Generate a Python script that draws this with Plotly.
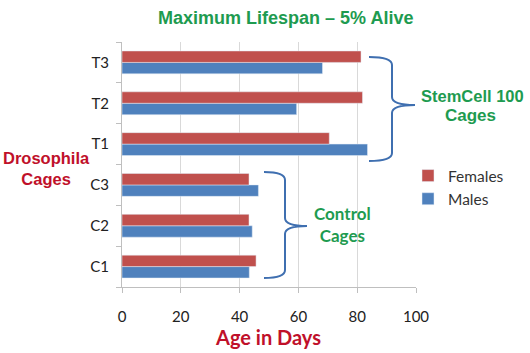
import plotly.graph_objects as go

categories = ["C1", "C2", "C3", "T1", "T2", "T3"]
females = [45.6, 43.2, 43.2, 70.5, 81.8, 81.3]
males = [43.3, 44.3, 46.4, 83.5, 59.4, 68.2]
x_ticks = [0, 20, 40, 60, 80, 100]

RED = "#C0504D"
BLUE = "#4F81BD"
GREEN = "#1E9B50"
DARKRED = "#C0102A"

W, H = 530, 353
L, R, T, B = 122, 114, 42, 66
PW, PH = W - L - R, H - T - B


def px(x):
    return (x - L) / PW


def py(y):
    return (H - B - y) / PH


fig = go.Figure()
fig.add_trace(go.Bar(y=categories, x=males, orientation="h", name="Males",
                     marker_color=BLUE, legendgroup="m"))
fig.add_trace(go.Bar(y=categories, x=females, orientation="h", name="Females",
                     marker_color=RED, legendgroup="f"))


def brace(x0, x1, x2, ytop, ymid, ybot, r=8):
    X0, X1, X2 = px(x0), px(x1), px(x2)
    Yt, Ym, Yb = py(ytop), py(ymid), py(ybot)
    ry = r / PH
    p = (f"M {X0},{Yt} Q {X1},{Yt} {X1},{Yt - ry} "
         f"L {X1},{Ym + ry} Q {X1},{Ym} {X2},{Ym} "
         f"Q {X1},{Ym} {X1},{Ym - ry} "
         f"L {X1},{Yb + ry} Q {X1},{Yb} {X0},{Yb}")
    return dict(type="path", path=p, xref="paper", yref="paper",
                line=dict(color="#3F6FB0", width=2))


shapes = [brace(369, 392, 415, 57, 105, 161), brace(264, 285, 307, 172, 226, 278)]

annotations = [
    dict(text="<b>Maximum Lifespan – 5% Alive</b>", x=px(285), y=py(18),
         font=dict(family="Liberation Sans", size=18, color=GREEN)),
    dict(text="<b>Drosophila<br>Cages</b>", x=px(46), y=py(168),
         font=dict(family="Liberation Sans", size=16.5, color=DARKRED)),
    dict(text="<b>StemCell 100</b>", x=px(419), y=py(96), xanchor="left",
         font=dict(family="Liberation Sans", size=16.5, color=GREEN)),
    dict(text="<b>Cages</b>", x=px(470), y=py(116),
         font=dict(family="Liberation Sans", size=17, color=GREEN)),
    dict(text="<b>Control<br>Cages</b>", x=px(342), y=py(224),
         font=dict(family="Lato", size=17, color=GREEN)),
    dict(text="<b>Age in Days</b>", x=px(268), y=py(337),
         font=dict(family="Lato", size=20, color=DARKRED)),
]
for a in annotations:
    a.setdefault("xanchor", "center")
    a.update(xref="paper", yref="paper", showarrow=False, yanchor="middle")

fig.update_layout(
    width=W, height=H,
    margin=dict(l=L, r=R, t=T, b=B),
    paper_bgcolor="white", plot_bgcolor="white",
    barmode="group", bargap=0.44, bargroupgap=0,
    font=dict(family="Lato", size=14, color="#222222"),
    shapes=shapes, annotations=annotations,
    legend=dict(x=px(408), y=py(159), xanchor="left", yanchor="top",
                traceorder="reversed", tracegroupgap=14,
                font=dict(family="Lato", size=15.5, color="#333333"),
                bgcolor="rgba(0,0,0,0)"),
    xaxis=dict(range=[0, 100], tickvals=x_ticks, ticktext=[str(v) for v in x_ticks],
               showgrid=True, gridcolor="#D9D9D9", gridwidth=1,
               showline=True, linecolor="#BFBFBF", ticks="outside", ticklen=5,
               tickcolor="#BFBFBF", zeroline=False, ticklabelstandoff=11,
               tickfont=dict(size=15), automargin=False),
    yaxis=dict(categoryorder="array", categoryarray=categories,
               showline=True, linecolor="#BFBFBF", ticks="outside", ticklen=5,
               tickcolor="#BFBFBF", tickson="boundaries", showgrid=False,
               ticklabelstandoff=9, tickfont=dict(size=15), automargin=False),
)

fig.write_html("out.html")
